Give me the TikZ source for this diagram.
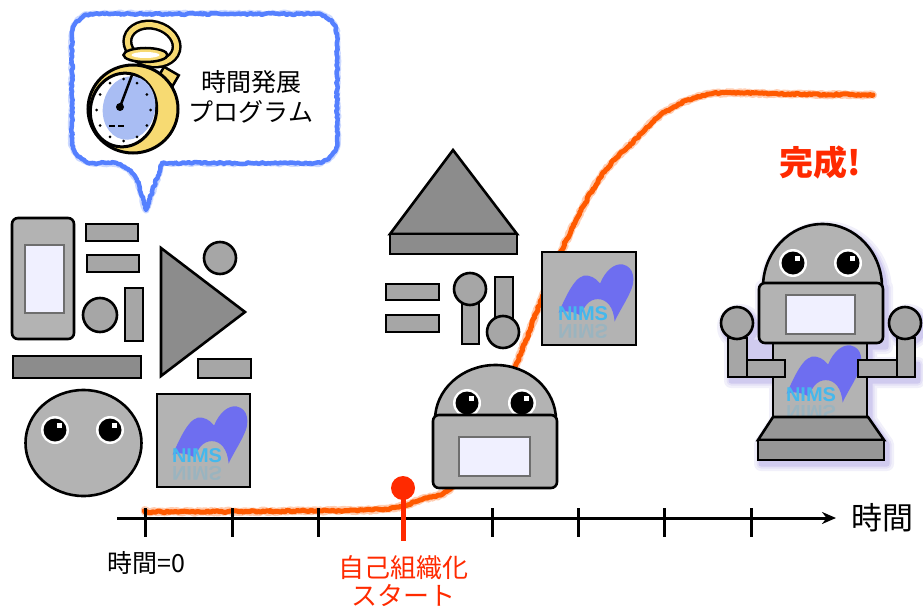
\documentclass[tikz,border=0pt]{standalone}
\usepackage{fontspec}
\newfontfamily\jp{Noto Sans CJK JP}
\newfontfamily\logofont{Liberation Sans}
\usepackage{tikz}
\usetikzlibrary{arrows.meta, positioning, decorations.pathmorphing}

\definecolor{robotgray}{HTML}{B3B3B3}
\definecolor{blockgray}{HTML}{A6A6A6}
\definecolor{darkblock}{HTML}{8C8C8C}
\definecolor{screenfill}{HTML}{F0F0FF}
\definecolor{screenedge}{HTML}{6E6E6E}
\definecolor{crayon}{HTML}{FF5A00}
\definecolor{startred}{HTML}{FF2A00}
\definecolor{bubbleblue}{HTML}{5580FF}
\definecolor{nimsblue}{HTML}{6E6EF0}
\definecolor{nimscyan}{HTML}{45B8EC}
\definecolor{watchgold}{HTML}{F7DA72}
\definecolor{dialblue}{HTML}{A9BDF3}
\definecolor{glowc}{HTML}{6A5ACD}

\tikzstyle{part} = [
    draw=black,
    line width=2.6pt,
    fill=blockgray
]
\tikzstyle{robotpart} = [part, fill=robotgray, rounded corners=6pt]
\tikzstyle{darkpart} = [part, fill=darkblock]
\tikzstyle{screen} = [draw=screenedge, line width=2.6pt, fill=screenfill]
\tikzstyle{crayonstroke} = [
    decorate,
    decoration={random steps, segment length=2pt, amplitude=0.9pt},
    line cap=round,
    line join=round
]
\tikzstyle{jptext} = [font=\jp\fontsize{25}{30}\selectfont, align=center, inner sep=0pt]
\tikzstyle{logotext} = [font=\logofont\bfseries\fontsize{20}{20}\selectfont, inner sep=0pt]

% eye with white rim and a square glint
\newcommand{\robotEye}[1]{%
    \fill[white] #1 circle (14pt);
    \fill[black] #1 circle (11.5pt);
    \fill[white, shift={#1}] (1.5,-7.5) rectangle (7,-2);
}

% logo: name, centre
\newcommand{\nimsLogo}[2]{%
    \begin{scope}[shift={#2}]
        \fill[nimsblue, scale=1.12] (-28,13) .. controls (-20,-5) and (-12,-22) .. (-2,-20)
            .. controls (4,-19) and (7,-15) .. (9,-13)
            .. controls (14,-25) and (22,-31) .. (29,-30)
            .. controls (40,-28) and (40,-15) .. (37,-8)
            .. controls (33,2) and (26,12) .. (22,21)
            .. controls (21,8) and (15,1) .. (7,1)
            .. controls (-1,1) and (-6,8) .. (-8,16)
            .. controls (-14,12) and (-22,11) .. (-28,13) -- cycle;
        \node[logotext, text=nimscyan, opacity=0.22, yscale=-1] (#1-mirror) at (-7,33) {NIMS};
        \node[logotext, text=nimscyan] (#1-text) at (-7,16) {NIMS};
    \end{scope}
}

\begin{document}
\pgfmathsetseed{7}
\begin{tikzpicture}[x=1pt, y=-1pt]
\useasboundingbox (0,0) rectangle (923,610);

% growth curve, under all the parts
\foreach \w/\o in {8/0.3, 5/1} {
    \draw[crayonstroke, crayon, line width=\w pt, opacity=\o] plot[smooth, tension=0.6] coordinates {
        (145,512) (300,511) (385,509) (420,500) (453,486) (490,430) (523,347)
        (562,250) (600,178) (637,138) (665,112) (710,94) (780,94) (873,95)};
}

% speech bubble
\foreach \w/\o in {7/0.3, 4.5/1} {
    \draw[crayonstroke, bubbleblue, line width=\w pt, opacity=\o, fill=white, fill opacity=1]
        (146,210) -- (162,163) [rounded corners=22pt] -- (337,163) -- (337,14)
        -- (72,14) -- (72,163) -- (133,163) [sharp corners] -- cycle;
}

% stopwatch
\draw[black, line width=10pt, rotate around={-15:(152,44)}] (152,44) ellipse [x radius=25pt, y radius=19pt];
\draw[watchgold, line width=5pt, rotate around={-15:(152,44)}] (152,44) ellipse [x radius=25pt, y radius=19pt];
\filldraw[fill=watchgold, draw=black, line width=2.5pt, rotate around={-30:(168,76)}]
    (160,70) rectangle (177,82);
\filldraw[fill=watchgold, draw=black, line width=3pt] (133,109) ellipse [x radius=45pt, y radius=44pt];
\filldraw[fill=watchgold, draw=black, line width=2.5pt] (145.5,55) ellipse [x radius=22pt, y radius=7pt];
\fill[white] (145.5,55) ellipse [x radius=14pt, y radius=3pt];
\filldraw[fill=white, draw=black, line width=3pt, rotate around={-12:(123.5,110)}]
    (123.5,110) ellipse [x radius=33pt, y radius=37pt];
\fill[dialblue, rotate around={-12:(129,108)}] (129,108) ellipse [x radius=26pt, y radius=32pt];
\foreach \a in {0,30,...,330}
    \fill (123.5,110) ++(\a:27pt and 31pt) circle (1.5pt);
\draw[line width=2.5pt, line cap=round] (120,107) -- (132,75);
\fill (120,107) circle (4pt);
\draw[line width=1.5pt] (109,126) -- (115,126) (118,126) -- (124,126);

\node[jptext] (bubbletext) at (251,97) {時間発展\\プログラム};

% loose parts on the left
\filldraw[robotpart] (12,218) rectangle (74,339);
\filldraw[screen] (25,245) rectangle (64,313);
\filldraw[part] (86,224) rectangle (138,241);
\filldraw[part] (87,255) rectangle (139,272);
\filldraw[part] (100,315) circle (17pt);
\filldraw[part] (125,288) rectangle (143,341);
\filldraw[darkpart] (13,356) rectangle (141,378);
\filldraw[darkpart] (161,248) -- (245,312) -- (161,376) -- cycle;
\filldraw[part] (220,258) circle (16pt);
\filldraw[part] (198,359) rectangle (251,378);

% round head
\filldraw[part, fill=robotgray] (83.5,443) ellipse [x radius=58pt, y radius=53pt];
\robotEye{(55,430)}
\robotEye{(110,430)}

\filldraw[part, fill=robotgray] (157,394) rectangle (250,487);
\nimsLogo{leftlogo}{(204,440)}

% half assembled parts
\filldraw[darkpart] (453,150) -- (517,234) -- (390,234) -- cycle;
\filldraw[darkpart] (390,234) rectangle (517,254);
\filldraw[part] (386,284) rectangle (439,300);
\filldraw[part] (386,315) rectangle (439,332);
\filldraw[part] (462,300) rectangle (479,344);
\filldraw[part] (470,289) circle (16pt);
\filldraw[part] (495,277) rectangle (513,318);
\filldraw[part] (503,332) circle (16pt);
\filldraw[part, fill=robotgray] (542,252) rectangle (636,345);
\nimsLogo{midlogo}{(590,298)}

% small robot
\filldraw[part, fill=robotgray] (435,420) arc[start angle=180, end angle=0, x radius=60.5pt, y radius=55pt] -- cycle;
\robotEye{(467,403)}
\robotEye{(522,403)}
\filldraw[robotpart] (433,415) rectangle (557,488);
\filldraw[screen] (459,437) rectangle (530,476);

% finished robot, glow first
\begin{scope}[transparency group, opacity=0.45, shift={(3,4)}]
\foreach \w/\c in {14/glowc!20, 9/glowc!40, 5/glowc!70} {
    \filldraw[draw=\c, fill=\c, line width=\w pt, line join=round]
        (763,287) arc[start angle=180, end angle=0, x radius=59.5pt, y radius=63pt] -- cycle
        (759,283) rectangle (883,343)
        (773,343) rectangle (867,417)
        (773,417) -- (868,417) -- (884,440) -- (884,460) -- (758,460) -- (758,440) -- cycle
        (737,323) circle (16pt) (728,338) rectangle (785,377)
        (905,323) circle (16pt) (858,360) rectangle (915,377);
}
\end{scope}
\filldraw[part, fill=robotgray] (763,287) arc[start angle=180, end angle=0, x radius=59.5pt, y radius=63pt] -- cycle;
\robotEye{(793,263)}
\robotEye{(848,263)}
\filldraw[part, fill=robotgray] (773,340) rectangle (867,417);
\filldraw[robotpart] (759,283) rectangle (883,343);
\filldraw[screen] (786,295) rectangle (855,334);
\nimsLogo{botlogo}{(818,379)}
\filldraw[part] (728,338) rectangle (747,377);
\filldraw[part] (747,360) rectangle (785,377);
\filldraw[part] (737,323) circle (16pt);
\filldraw[part] (897,338) rectangle (915,377);
\filldraw[part] (858,360) rectangle (897,377);
\filldraw[part] (905,323) circle (16pt);
\filldraw[part, fill=darkblock!90!white] (773,417) -- (868,417) -- (884,440) -- (758,440) -- cycle;
\filldraw[part, fill=darkblock!90!white] (758,440) rectangle (884,460);

\node[font=\jp\bfseries\fontsize{34}{34}\selectfont, text=startred, inner sep=0pt] (kansei) at (820,163) {完成!};

% time axis
\coordinate (origin) at (117,518);
\coordinate (axisend) at (836,518);
\draw[line width=3pt, -{Stealth[length=14pt, width=12pt]}] (origin) -- (axisend);
\foreach \x in {145,232,318,492,578,664,751}
    \draw[line width=3pt] (\x,508) -- (\x,537);
\node[jptext, font=\jp\fontsize{31}{31}\selectfont, right=15pt of axisend] (timelabel) {時間};
\node[jptext] (zerolabel) at (146,563) {時間=0};

% start of self-organisation
\node[circle, fill=startred, minimum size=24pt, inner sep=0pt] (start) at (403,488) {};
\coordinate (startfoot) at (403,541);
\draw[startred, line width=5pt] (start.center) -- (startfoot);
\node[jptext, text=startred, font=\jp\fontsize{26}{28}\selectfont] (startlabel) at (403,581) {自己組織化\\スタート};

\end{tikzpicture}
\end{document}
